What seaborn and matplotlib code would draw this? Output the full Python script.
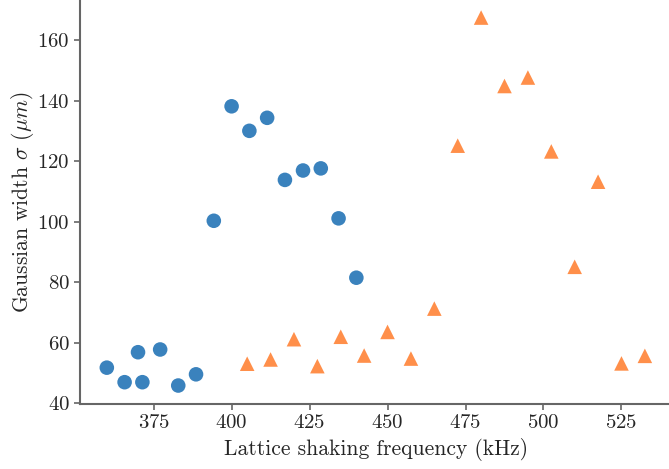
import matplotlib
matplotlib.use("Agg")
import matplotlib.pyplot as plt
import seaborn as sns
import pandas as pd

# Blue series: circles
freq_a = [360.0, 365.7, 370.0, 371.4, 377.1, 382.9, 388.6, 394.3, 400.0,
          405.7, 411.4, 417.1, 422.9, 428.6, 434.3, 440.0]
width_a = [51.8, 47.0, 56.9, 47.0, 57.8, 45.9, 49.6, 100.3, 138.1,
           130.0, 134.3, 113.8, 116.9, 117.6, 101.1, 81.5]

# Orange series: triangles
freq_b = [405.0, 412.5, 420.0, 427.5, 435.0, 442.5, 450.0, 457.5, 465.0,
          472.5, 480.0, 487.5, 495.0, 502.5, 510.0, 517.5, 525.0, 532.5]
width_b = [53.1, 54.5, 61.2, 52.3, 62.0, 55.8, 63.6, 54.8, 71.3,
           125.1, 167.4, 144.8, 147.6, 123.2, 85.1, 113.2, 53.2, 55.7]

x_ticks = [375, 400, 425, 450, 475, 500, 525]
y_ticks = [40, 60, 80, 100, 120, 140, 160]

df = pd.DataFrame({
    "freq": freq_a + freq_b,
    "width": width_a + width_b,
    "set": ["a"] * len(freq_a) + ["b"] * len(freq_b),
})

sns.set_theme(style="ticks")
plt.rcParams["font.family"] = "serif"
plt.rcParams["font.serif"] = ["cmr10", "DejaVu Serif"]
plt.rcParams["mathtext.fontset"] = "cm"
plt.rcParams["axes.formatter.use_mathtext"] = True
plt.rcParams["axes.unicode_minus"] = False

fig = plt.figure(figsize=(6.69, 4.69), dpi=100)
ax = fig.add_axes([80 / 669, 65 / 469, 592 / 669, 404 / 469])

sns.scatterplot(
    data=df, x="freq", y="width", hue="set", style="set",
    palette={"a": "#3a82bd", "b": "#ff8f4a"},
    markers={"a": "o", "b": "^"},
    s=110, linewidth=0, legend=False, ax=ax,
)

ax.set_xticks(x_ticks)
ax.set_yticks(y_ticks)
ax.set_xlim(351.4, 541.2)
ax.set_ylim(39.8, 173.2)
ax.set_xlabel("Lattice shaking frequency (kHz)", fontsize=15.5, labelpad=4)
ax.set_ylabel(r"Gaussian width $\sigma$ $(\mu m)$", fontsize=15.5, labelpad=1)
ax.tick_params(labelsize=15, color="#666666", length=4, width=1.2)
for side in ("top", "right"):
    ax.spines[side].set_visible(False)
for side in ("left", "bottom"):
    ax.spines[side].set_color("#666666")
    ax.spines[side].set_linewidth(1.5)

fig.savefig("out.png", dpi=100)
